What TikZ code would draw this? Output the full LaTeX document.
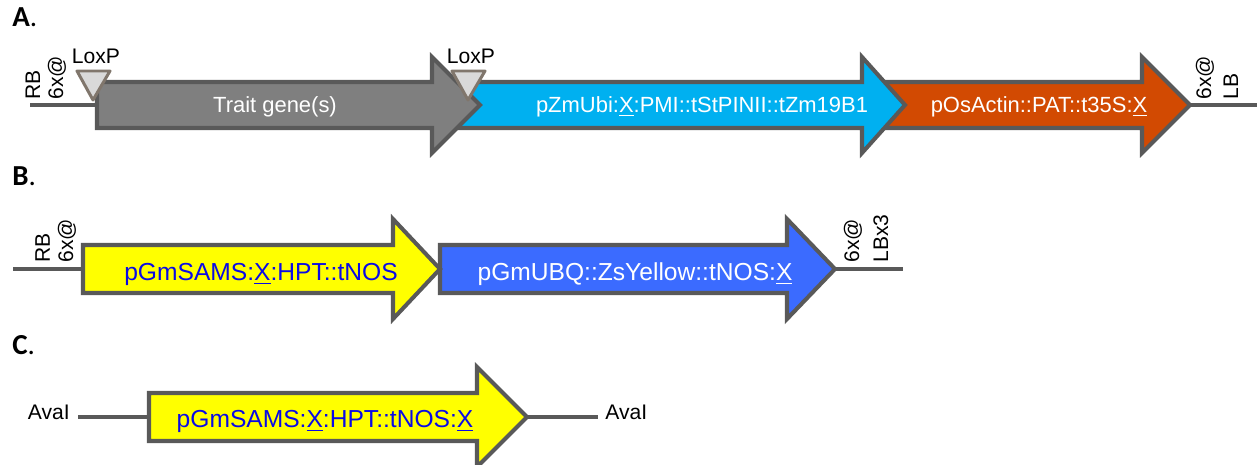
\documentclass[tikz,border=0pt]{standalone}
\usepackage{fontspec}
\setmainfont{Liberation Sans}
\newfontfamily\panelfont{Carlito}

\definecolor{outl}{RGB}{89,89,89}
\definecolor{traitgray}{RGB}{127,127,127}
\definecolor{skyblue}{RGB}{0,176,240}
\definecolor{rust}{RGB}{210,74,2}
\definecolor{hygyellow}{RGB}{255,255,0}
\definecolor{zsblue}{RGB}{59,107,255}
\definecolor{loxfill}{RGB}{217,217,217}
\definecolor{loxedge}{RGB}{128,118,108}
\definecolor{txtblue}{RGB}{10,10,230}

\newcommand{\ux}{\underline{X}}

\begin{document}
\begin{tikzpicture}[x=0.02cm, y=-0.02cm,
    genebox/.style={draw=outl, line width=2.3pt, line join=miter},
    backbone/.style={draw=outl, line width=2.3pt},
    loxsite/.style={draw=loxedge, fill=loxfill, line width=1.7pt, line join=round},
    genetxt/.style={inner sep=0, anchor=base, font=\fontsize{12.5}{14}\selectfont},
    bigtxt/.style={inner sep=0, anchor=base, font=\fontsize{14}{16}\selectfont, text=txtblue},
    smalltxt/.style={inner sep=0, font=\fontsize{12}{14}\selectfont},
    vlabel/.style={smalltxt, rotate=90, anchor=base west},
    panel/.style={inner sep=0, anchor=base west, font=\panelfont\fontsize{16.5}{18}\selectfont}]
    \useasboundingbox (0,0) rectangle (1257,465);

    % Panel labels
    \node[panel] (pA) at (12,27) {\textbf{A}.};
    \node[panel] (pB) at (12,186) {\textbf{B}.};
    \node[panel] (pC) at (12,355) {\textbf{C}.};

    % ---------- A ----------
    \coordinate (rbA) at (30,105);
    \coordinate (traitL) at (97,105);
    \coordinate (patR) at (1190,105);
    \coordinate (lbA) at (1257,105);
    \draw[backbone] (rbA) -- (traitL);
    \draw[backbone] (patR) -- (lbA);

    % Gene arrows (right to left, so each head lies on top)
    \draw[genebox, fill=rust] (870,82) -- (1142,82) -- (1142,57) -- (patR)
        -- (1142,153) -- (1142,128) -- (870,128) -- cycle;
    \draw[genebox, fill=skyblue] (440,82) -- (862,82) -- (862,57) -- (905,105)
        -- (862,153) -- (862,128) -- (440,128) -- cycle;
    \draw[genebox, fill=traitgray] (traitL) -- (97,82) -- (432,82) -- (432,57) -- (480,105)
        -- (432,153) -- (432,128) -- (97,128) -- cycle;

    \node[genetxt, text=white] (trait) at (275,113) {Trait gene(s)};
    \node[genetxt, text=white] (pmi) at (702,113) {pZmUbi:\ux:PMI::tStPINII::tZm19B1};
    \node[genetxt, text=white] (pat) at (1039,113) {pOsActin::PAT::t35S:\ux};

    % LoxP sites
    \foreach \lx/\nm in {93/loxA, 468/loxB} {
        \draw[loxsite] (\lx-16,71) -- (\lx+17,71) -- (\lx,100) -- cycle;
        \node[smalltxt, anchor=base] (\nm) at (\lx+3,64) {LoxP};
    }

    % Border labels
    \node[vlabel] (rbAt) at (40,100) {RB};
    \node[vlabel] (rpA) at (63,100) {6x@};
    \node[vlabel] (lpA) at (1211,100) {6x@};
    \node[vlabel] (lbAt) at (1238,100) {LB};

    % ---------- B ----------
    \coordinate (rbB) at (13,269);
    \coordinate (hptL) at (83,269);
    \coordinate (zsR) at (835,269);
    \coordinate (lbB) at (903,269);
    \draw[backbone] (rbB) -- (hptL);
    \draw[backbone] (zsR) -- (lbB);

    \draw[genebox, fill=zsblue] (440,245) -- (787,245) -- (787,219) -- (zsR)
        -- (787,319) -- (787,293) -- (440,293) -- cycle;
    \draw[genebox, fill=hygyellow] (hptL) -- (83,245) -- (393,245) -- (393,219) -- (440,269)
        -- (393,319) -- (393,293) -- (83,293) -- cycle;

    \node[bigtxt] (hpt) at (261,281) {pGmSAMS:\ux:HPT::tNOS};
    \node[bigtxt, text=white] (zs) at (635,281) {pGmUBQ::ZsYellow::tNOS:\ux};

    \node[vlabel] (rbBt) at (50,263) {RB};
    \node[vlabel] (rpB) at (73,263) {6x@};
    \node[vlabel] (lpB) at (859,263) {6x@};
    \node[vlabel] (lbBt) at (888,263) {LBx3};

    % ---------- C ----------
    \node[smalltxt, anchor=base east] (avaL) at (70,420) {AvaI};
    \node[smalltxt, anchor=base west] (avaR) at (605,420) {AvaI};
    \coordinate (cL) at (149,417);
    \coordinate (cR) at (527,417);
    \draw[backbone] (78,417) -- (cL);
    \draw[backbone] (cR) -- (598,417);

    \draw[genebox, fill=hygyellow] (cL) -- (149,393) -- (477,393) -- (477,367) -- (cR)
        -- (477,467) -- (477,441) -- (149,441) -- cycle;

    \node[bigtxt] (hptC) at (325,428) {pGmSAMS:\ux:HPT::tNOS:\ux};
\end{tikzpicture}
\end{document}
